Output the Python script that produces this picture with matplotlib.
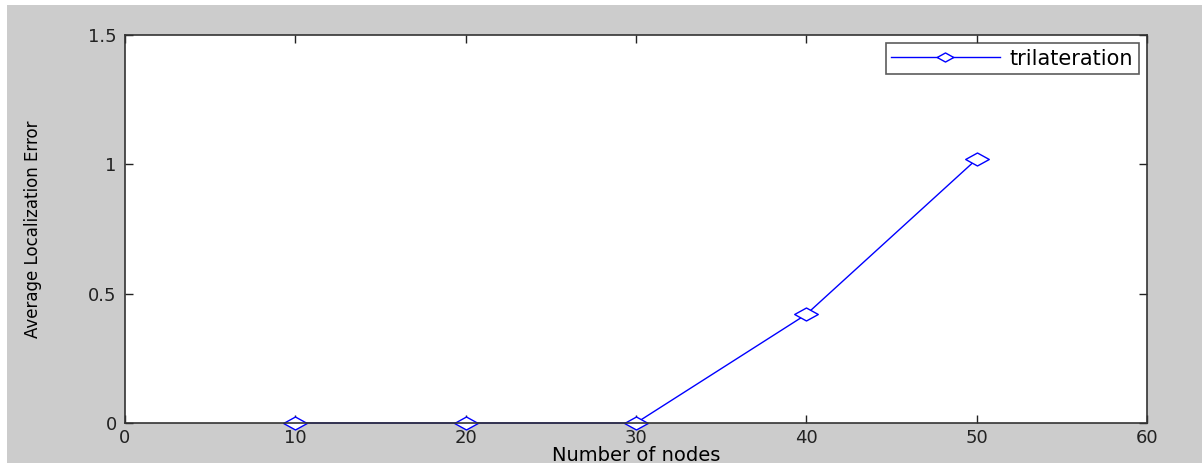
import matplotlib
matplotlib.use("Agg")
import matplotlib.pyplot as plt
from matplotlib.patches import Rectangle
from matplotlib.path import Path

# data
nodes = [10, 20, 30, 40, 50]
avg_error = [0.0, 0.0, 0.0, 0.42, 1.02]
x_ticks = [0, 10, 20, 30, 40, 50, 60]
y_ticks = [0, 0.5, 1, 1.5]
y_tick_labels = ["0", "0.5", "1", "1.5"]

plt.rcParams["font.family"] = ["DejaVu Sans"]

fig = plt.figure(figsize=(12.02, 4.65), dpi=100, facecolor="white")
# matlab-style gray figure background with thin white border
fig.patches.append(Rectangle((7 / 1202, 2 / 465), 1 - 7 / 1202, 1 - 7 / 465,
                             transform=fig.transFigure, facecolor="#cccccc",
                             edgecolor="none", zorder=-10))

ax = fig.add_axes([125 / 1202, 1 - 423 / 465, (1147 - 125) / 1202, (423 - 35) / 465])
ax.set_facecolor("white")

# wide flat diamond (the reference is stretched horizontally)
diamond = Path([(-1, 0), (0, 0.55), (1, 0), (0, -0.55), (-1, 0)],
               [Path.MOVETO, Path.LINETO, Path.LINETO, Path.LINETO, Path.CLOSEPOLY])

ax.plot(nodes, avg_error, color="#0000ff", linewidth=1.0, marker=diamond,
        markersize=17, markerfacecolor="white", markeredgecolor="#0000ff",
        markeredgewidth=1.0, label="trilateration", clip_on=False)

ax.set_xlim(0, 60)
ax.set_ylim(0, 1.5)
ax.set_xticks(x_ticks)
ax.set_yticks(y_ticks)
ax.set_yticklabels(y_tick_labels)
ax.tick_params(direction="in", length=6, width=1, top=True, right=True,
               labelsize=13, colors="#222222", pad=6)
ax.tick_params(axis="x", pad=4)
for s in ax.spines.values():
    s.set_linewidth(1.2)
    s.set_color("#333333")

ax.set_xlabel("Number of nodes", fontsize=14)
ax.xaxis.set_label_coords(0.5, -(455 - 423) / (423 - 35), transform=ax.transAxes)
ax.xaxis.label.set_va("center")
ax.set_ylabel("Average Localization Error", fontsize=12)
ax.yaxis.set_label_coords(-(125 - 33) / (1147 - 125), 0.5, transform=ax.transAxes)
ax.yaxis.label.set_va("center")

leg = ax.legend(loc="upper right", fontsize=15, frameon=True, fancybox=False,
                borderaxespad=0.4, handlelength=5.2, handletextpad=0.5,
                borderpad=0.25, markerscale=0.7)
leg.get_frame().set_edgecolor("#333333")
leg.get_frame().set_linewidth(1.2)

fig.savefig("out.png", dpi=100, facecolor=fig.get_facecolor())
